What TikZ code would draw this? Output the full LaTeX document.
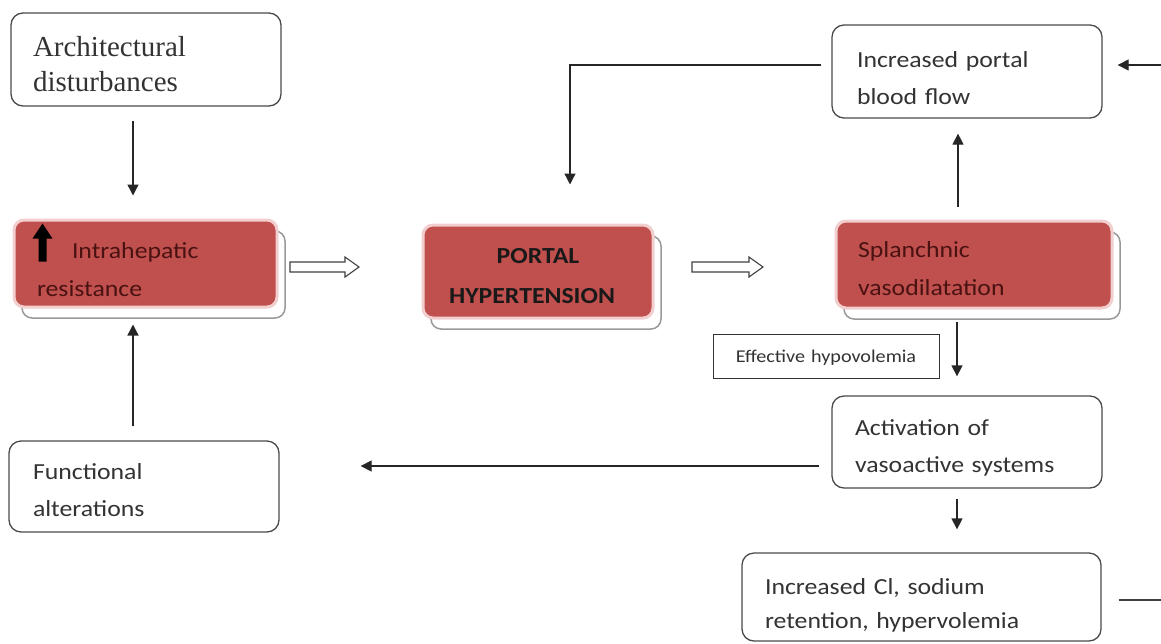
\documentclass[tikz,border=0pt]{standalone}
\usepackage{fontspec}
\setmainfont{Carlito}[FakeStretch=1.12]
\newfontfamily\timesf{Liberation Serif}
\usetikzlibrary{arrows.meta,calc,shadows}
\definecolor{boxred}{HTML}{C0504D}
\definecolor{pinkedge}{HTML}{F2CFCE}
\definecolor{redtxt}{HTML}{4A1212}
\definecolor{edgegray}{HTML}{4A4A4A}
\definecolor{txtgray}{HTML}{333333}
\tikzset{
  raise/.style={text height=0pt, text depth=#1},
  wbox/.style={draw=edgegray, line width=1.3pt, rounded corners=12pt, fill=white,
    align=left, text=txtgray, font=\fontsize{23}{37}\selectfont, inner ysep=0pt},
  rbox/.style={fill=boxred, draw=pinkedge, line width=3pt, rounded corners=10pt,
    text=redtxt, font=\fontsize{23}{38}\selectfont, inner ysep=0pt,
    general shadow={shadow xshift=8pt, shadow yshift=-11pt, fill=white, draw=gray!80, line width=1.5pt}},
  arr/.style={line width=1.3pt, draw=black!85, -{Triangle[width=11pt,length=11pt]}},
  plain/.style={line width=1.3pt, draw=black!75},
  hollow/.style={draw=black!75, line width=1.1pt, fill=white},
}
\begin{document}
\begin{tikzpicture}[x=1pt,y=-1pt]
\useasboundingbox (0,0) rectangle (1161,643);
% nodes
\node[wbox, font=\timesf\fontsize{29}{35}\selectfont, minimum height=93pt, text width=226pt, inner xsep=22pt, raise=6pt] (arch) at (146,59.5) {Architectural\\disturbances};
\node[rbox, align=left, minimum height=87pt, text width=217pt, inner xsep=23pt, raise=11pt] (ih) at (145.5,263.5) {\hspace*{35pt}Intrahepatic\\resistance};
\node[rbox, align=center, font=\bfseries\fontsize{23}{40}\selectfont, text=black!90, minimum height=93pt, text width=210pt, inner xsep=10pt, raise=17pt] (ph) at (538,271.5) {PORTAL\\HYPERTENSION\hspace*{12pt}};
\node[rbox, align=left, minimum height=87pt, text width=232pt, inner xsep=22pt, raise=15pt] (sv) at (974,264.5) {Splanchnic\\vasodilatation};
\node[draw=black!80, line width=1pt, fill=white, minimum height=44pt, text width=206pt, inner xsep=10pt, inner ysep=0pt, align=center, text=txtgray, font=\fontsize{18}{20}\selectfont, text height=12pt, text depth=0pt] (eh) at (826,356) {Effective hypovolemia};
\node[wbox, minimum height=93pt, text width=220pt, inner xsep=25pt, raise=8pt] (ipbf) at (967,71.5) {Increased portal\\blood flow};
\node[wbox, minimum height=92pt, text width=224pt, inner xsep=23pt, raise=13pt] (avs) at (967,442) {Activation of\\vasoactive systems};
\node[wbox, minimum height=91pt, text width=222pt, inner xsep=24pt, raise=14pt] (fa) at (144,486.5) {Functional\\alterations};
\node[wbox, font=\fontsize{23}{34}\selectfont, minimum height=88pt, text width=313pt, inner xsep=23pt, raise=5pt] (icl) at (921.5,597) {Increased Cl, sodium\\retention, hypervolemia};
% up arrow glyph inside intrahepatic box
\begin{scope}[shift={(ih.north west)}]
\fill[black] (26,43) -- (26,20) -- (20,20) -- (30,5) -- (40,20) -- (34,20) -- (34,43) -- cycle;
\end{scope}
% coordinates at the picture edge
\coordinate (rin) at (1161,65);
\coordinate (rout) at (1161,600);
% connectors
\draw[arr] ([xshift=-13pt,yshift=-14pt]arch.south) -- ([xshift=-12.5pt,yshift=23pt]ih.north);
\draw[arr] ([xshift=-11pt,yshift=14pt]fa.north) -- ([xshift=-12.5pt,yshift=-16pt]ih.south);
\draw[arr] ([xshift=-10pt,yshift=6.5pt]ipbf.west) -| ([xshift=32pt,yshift=39pt]ph.north);
\draw[arr] (rin) -- ([xshift=15pt,yshift=6.5pt]ipbf.east);
\draw[arr] ([xshift=-16pt,yshift=13pt]sv.north) -- ([xshift=-9pt,yshift=-15pt]ipbf.south);
\draw[arr] ([xshift=-17pt,yshift=-12pt]sv.south) -- ([xshift=-10pt,yshift=19pt]avs.north);
\draw[arr] ([xshift=-10pt,yshift=-10pt]avs.south) -- ([xshift=35.5pt,yshift=23pt]icl.north);
\draw[arr] ([xshift=-12pt,yshift=-24pt]avs.west) -- ([xshift=81pt,yshift=20.5pt]fa.east);
\draw[plain] ([xshift=17pt,yshift=-3pt]icl.east) -- (rout);
% hollow block arrows
\draw[hollow] (290,262) -- (345,262) -- (345,257) -- (359,267) -- (345,277) -- (345,272) -- (290,272) -- cycle;
\draw[hollow] (692,262) -- (749,262) -- (749,257) -- (763,267) -- (749,277) -- (749,272) -- (692,272) -- cycle;
\end{tikzpicture}
\end{document}
